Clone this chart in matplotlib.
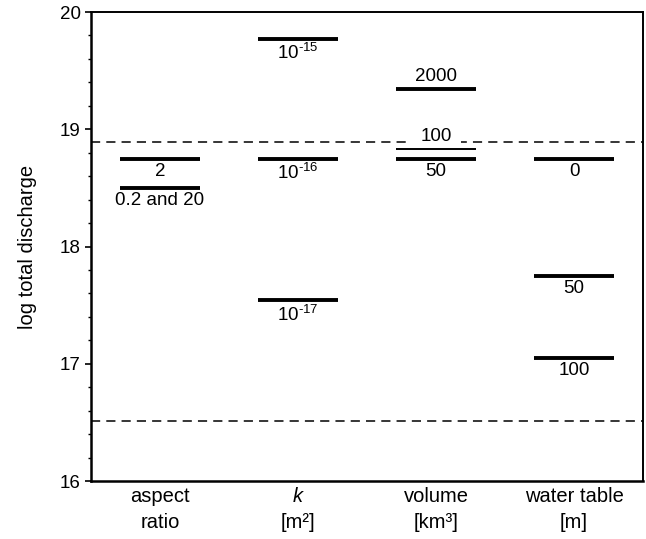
import numpy as np
import matplotlib.pyplot as plt
from matplotlib.ticker import MultipleLocator

plt.rcParams['font.family'] = ['Liberation Sans', 'DejaVu Sans']
plt.rcParams['mathtext.fontset'] = 'custom'
plt.rcParams['mathtext.rm'] = 'Liberation Sans'
plt.rcParams['mathtext.it'] = 'Liberation Sans:italic'
plt.rcParams['mathtext.default'] = 'rm'

# categories along x (one list per label line)
cat_line1 = ['aspect', 'k', 'volume', 'water table']
cat_line2 = ['ratio', '[m²]', '[km³]', '[m]']

# one entry per result line: category index, log discharge, label, label side, thin line
bar_cat = [0, 0, 1, 1, 1, 2, 2, 2, 3, 3, 3]
bar_val = [18.75, 18.50, 19.77, 18.75, 17.54, 19.34, 18.83, 18.75, 18.75, 17.75, 17.05]
bar_lab = ['2', '0.2 and 20', '10$^{‐15}$', '10$^{‐16}$', '10$^{‐17}$',
           '2000', '100', '50', '0', '50', '100']
bar_above = [False, False, False, False, False, True, True, False, False, False, False]
bar_thin = [False, False, False, False, False, False, True, False, False, False, False]

# reference levels (dashed)
ref_levels = [18.89, 16.51]

fig = plt.figure(figsize=(6.46, 5.39), dpi=100)
ax = fig.add_axes([0.1409, 0.1076, 0.8545, 0.8701])

for lvl in ref_levels:
    ax.axhline(lvl, color='black', lw=1.1, ls=(0, (6, 4)), zorder=1)

half = 0.29
for c, v, lab, up, thin in zip(bar_cat, bar_val, bar_lab, bar_above, bar_thin):
    xc = c + 0.5
    ax.hlines(v, xc - half, xc + half, color='black', lw=1.4 if thin else 2.8, zorder=3)
    if up:
        ax.annotate(lab, (xc, v), xytext=(0, 3), textcoords='offset points',
                    ha='center', va='bottom', fontsize=13.5, zorder=2,
                    bbox=dict(facecolor='white', edgecolor='none', boxstyle='square,pad=0.5'))
    else:
        ax.annotate(lab, (xc, v), xytext=(0, -3), textcoords='offset points',
                    ha='center', va='top', fontsize=13.5, zorder=2)

# category labels under the axis
for i, (l1, l2) in enumerate(zip(cat_line1, cat_line2)):
    ax.annotate(l1, (i + 0.5, 0), xycoords=('data', 'axes fraction'), xytext=(0, -15),
                textcoords='offset points', ha='center', va='baseline', fontsize=14.5,
                style='italic' if l1 == 'k' else 'normal')
    ax.annotate(l2, (i + 0.5, 0), xycoords=('data', 'axes fraction'), xytext=(0, -34),
                textcoords='offset points', ha='center', va='baseline', fontsize=14.5)

ax.set_xlim(0, 4)
ax.set_ylim(16, 20)
ax.set_xticks([])
ax.yaxis.set_major_locator(MultipleLocator(1))
ax.yaxis.set_minor_locator(MultipleLocator(0.2))
ax.tick_params(axis='y', which='major', direction='out', length=4, width=1.2, labelsize=13.5)
ax.tick_params(axis='y', which='minor', direction='out', length=2.5, width=1.0)
ax.set_ylabel('log total discharge', fontsize=14.5, labelpad=16)

for s in ax.spines.values():
    s.set_linewidth(1.4)
ax.spines['left'].set_linewidth(1.8)
ax.spines['bottom'].set_linewidth(1.8)

fig.savefig('out.png', dpi=100)
